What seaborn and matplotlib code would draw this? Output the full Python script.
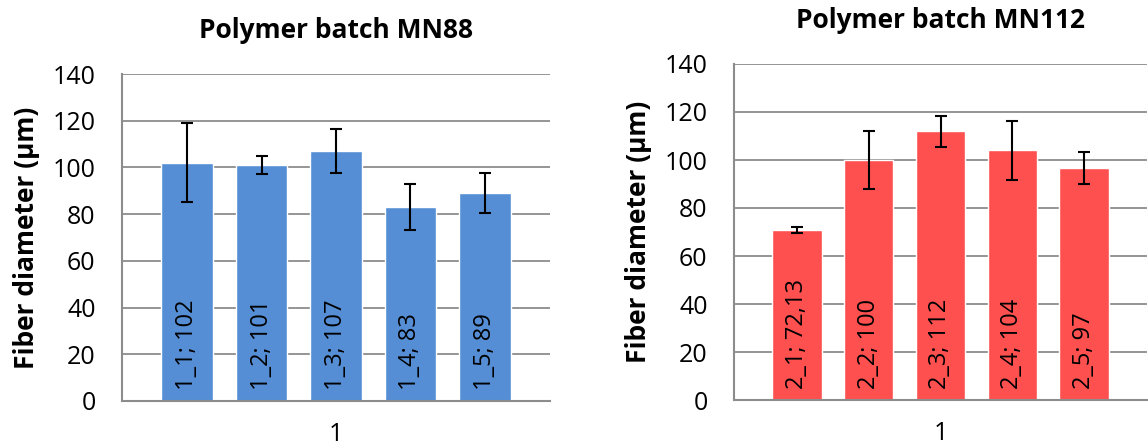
import pandas as pd
import matplotlib
matplotlib.use("Agg")
import matplotlib.pyplot as plt
import seaborn as sns

# data
samples_a = ["1_1", "1_2", "1_3", "1_4", "1_5"]
values_a = [102, 101, 107, 83, 89]
errors_a = [17, 4, 9.5, 9.7, 8.6]
labels_a = ["1_1; 102", "1_2; 101", "1_3; 107", "1_4; 83", "1_5; 89"]

samples_b = ["2_1", "2_2", "2_3", "2_4", "2_5"]
values_b = [70.8, 100, 112, 104, 96.7]
errors_b = [1.4, 12, 6.5, 12.2, 6.8]
labels_b = ["2_1; 72,13", "2_2; 100", "2_3; 112", "2_4; 104", "2_5; 97"]

titles = ["Polymer batch MN88", "Polymer batch MN112"]
colors = ["#558ED5", "#FF5050"]
yticks = [0, 20, 40, 60, 80, 100, 120, 140]

sns.set_style("white")
plt.rcParams["font.family"] = ["Open Sans", "DejaVu Sans"]
plt.rcParams["text.color"] = "black"
plt.rcParams["axes.labelcolor"] = "black"
plt.rcParams["xtick.color"] = "black"
plt.rcParams["ytick.color"] = "black"

fig = plt.figure(figsize=(11.48, 4.45), dpi=100)
ax_a = fig.add_axes([122 / 1148, 44 / 445, 428 / 1148, 327 / 445])
ax_b = fig.add_axes([734 / 1148, 45 / 445, 413 / 1148, 336 / 445])

panels = [
    (ax_a, samples_a, values_a, errors_a, labels_a),
    (ax_b, samples_b, values_b, errors_b, labels_b),
]

for i, (ax, samples, values, errors, labels) in enumerate(panels):
    df = pd.DataFrame({"group": ["1"] * len(samples), "sample": samples, "value": values})
    sns.barplot(data=df, x="group", y="value", hue="sample", ax=ax,
                palette=[colors[i]] * len(samples), saturation=1, errorbar=None,
                width=0.87, gap=0.31, legend=False, zorder=2)

    # error bars and the rotated labels sitting at the base of each bar
    for patch, val, err, lab in zip(ax.patches, values, errors, labels):
        xc = patch.get_x() + patch.get_width() / 2
        ax.errorbar(xc, val, yerr=err, color="black", capsize=4.5, elinewidth=1.5,
                    capthick=1.5, zorder=3)
        ax.text(xc, 4.5, lab, rotation=90, ha="center", va="bottom", fontsize=17,
                color="black", zorder=4)

    ax.set_xlim(-0.5, 0.5)
    ax.set_ylim(0, 140)
    ax.set_yticks(yticks)
    ax.tick_params(axis="y", labelsize=18, length=0, pad=19)
    ax.tick_params(axis="x", labelsize=18, length=0, pad=15)
    ax.yaxis.grid(True, color="#8c8c8c", linewidth=1.3, zorder=0)
    ax.set_axisbelow(True)
    for side in ["top", "right"]:
        ax.spines[side].set_visible(False)
    for side in ["left", "bottom"]:
        ax.spines[side].set_color("#8c8c8c")
        ax.spines[side].set_linewidth(1.5)
    ax.set_xlabel("")
    ax.set_ylabel("Fiber diameter (μm)", fontsize=19, fontweight="bold", labelpad=9)
    ax.set_title(titles[i], fontsize=19, fontweight="bold", pad=26)

fig.savefig("out.png", dpi=100)
